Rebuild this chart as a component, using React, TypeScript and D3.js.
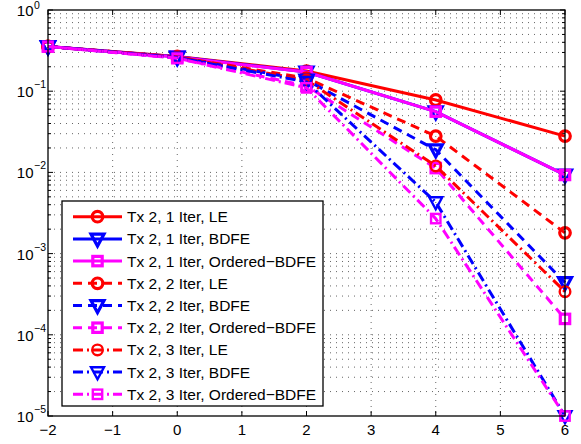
import React from "react";
import * as d3 from "d3";

// SNR points (x axis) and BER values
const snr = [-2, 0, 2, 4, 6];
const le1 = [0.355, 0.268, 0.177, 0.078, 0.028];
const bdfe1 = [0.355, 0.266, 0.172, 0.056, 0.0093];
const ord1 = [0.355, 0.264, 0.172, 0.056, 0.0093];
const le2 = [0.355, 0.264, 0.145, 0.028, 0.0018];
const bdfe2 = [0.355, 0.26, 0.137, 0.019, 0.00044];
const ord2 = [0.355, 0.255, 0.116, 0.0113, 0.000157];
const le3 = [0.355, 0.264, 0.137, 0.012, 0.00034];
const bdfe3 = [0.355, 0.26, 0.13, 0.0043, 0.00001];
const ord3 = [0.355, 0.255, 0.11, 0.0027, 0.00001];

const labels = [
  "Tx 2, 1 Iter, LE",
  "Tx 2, 1 Iter, BDFE",
  "Tx 2, 1 Iter, Ordered\u2212BDFE",
  "Tx 2, 2 Iter, LE",
  "Tx 2, 2 Iter, BDFE",
  "Tx 2, 2 Iter, Ordered\u2212BDFE",
  "Tx 2, 3 Iter, LE",
  "Tx 2, 3 Iter, BDFE",
  "Tx 2, 3 Iter, Ordered\u2212BDFE",
];
const xTicks = [-2, -1, 0, 1, 2, 3, 4, 5, 6];
const yExps = [0, -1, -2, -3, -4, -5];

const RED = "#ff0000";
const BLUE = "#0000ff";
const MAG = "#ff00ff";

const series = [
  { values: le1, color: RED, marker: "o", dash: null, mw: 3.2 },
  { values: bdfe1, color: BLUE, marker: "v", dash: null, mw: 3.2 },
  { values: ord1, color: MAG, marker: "s", dash: null, mw: 3.2 },
  { values: le2, color: RED, marker: "o", dash: "9 6", mw: 3.2 },
  { values: bdfe2, color: BLUE, marker: "v", dash: "9 6", mw: 3.2 },
  { values: ord2, color: MAG, marker: "s", dash: "9 6", mw: 3.2 },
  { values: le3, color: RED, marker: "o", dash: "10 4 2 4", mw: 2.4 },
  { values: bdfe3, color: BLUE, marker: "v", dash: "10 4 2 4", mw: 2.4 },
  { values: ord3, color: MAG, marker: "s", dash: "10 4 2 4", mw: 2.4 },
];

const left = 48;
const right = 565;
const top = 10;
const bottom = 416;

const x = d3.scaleLinear().domain([-2, 6]).range([left, right]);
const y = d3.scaleLog().domain([1e-5, 1]).range([bottom, top]);

const font = "'Liberation Sans', Arial, Helvetica, sans-serif";

function Marker({ kind, cx, cy, color, sw }) {
  if (kind === "o") {
    return <circle cx={cx} cy={cy} r={5.3} fill="none" stroke={color} strokeWidth={sw} />;
  }
  if (kind === "v") {
    const s = 6.5;
    const p = `M${cx - s},${cy - s * 0.75}L${cx + s},${cy - s * 0.75}L${cx},${cy + s * 1.1}Z`;
    return <path d={p} fill="none" stroke={color} strokeWidth={sw} strokeLinejoin="miter" />;
  }
  return <rect x={cx - 4.7} y={cy - 4.7} width={9.4} height={9.4} fill="none" stroke={color} strokeWidth={sw} />;
}

export default function App() {
  const line = d3
    .line<number>()
    .x((_, i) => x(snr[i]))
    .y((d) => y(d));

  const minorY: number[] = [];
  yExps.slice(0, -1).forEach((e) => {
    for (let k = 2; k <= 9; k++) minorY.push(k * Math.pow(10, e - 1));
  });
  const majorY = yExps.map((e) => Math.pow(10, e));

  const legX = 62;
  const legY = 201;
  const rowH = 22.2;

  return (
    <svg
      width={581}
      height={444}
      style={{ position: "absolute", left: 0, top: 0, background: "#fff" }}
      fontFamily={font}
    >
      {/* grid */}
      <g stroke="#666" strokeWidth={1} strokeDasharray="1 5">
        {xTicks.slice(1, -1).map((t) => (
          <line key={"gx" + t} x1={x(t)} x2={x(t)} y1={top} y2={bottom} />
        ))}
        {minorY.concat(majorY.slice(1, -1)).map((v, i) => (
          <line key={"gy" + i} x1={left} x2={right} y1={y(v)} y2={y(v)} />
        ))}
      </g>

      {/* ticks */}
      <g stroke="#000" strokeWidth={1}>
        {xTicks.map((t) => (
          <g key={"tx" + t}>
            <line x1={x(t)} x2={x(t)} y1={bottom} y2={bottom - 5} />
            <line x1={x(t)} x2={x(t)} y1={top} y2={top + 5} />
          </g>
        ))}
        {majorY.map((v, i) => (
          <g key={"ty" + i}>
            <line x1={left} x2={left + 5} y1={y(v)} y2={y(v)} />
            <line x1={right} x2={right - 5} y1={y(v)} y2={y(v)} />
          </g>
        ))}
        {minorY.map((v, i) => (
          <g key={"tm" + i}>
            <line x1={left} x2={left + 3} y1={y(v)} y2={y(v)} />
            <line x1={right} x2={right - 3} y1={y(v)} y2={y(v)} />
          </g>
        ))}
      </g>

      {/* series */}
      {series.map((s, i) => (
        <g key={"s" + i}>
          <path
            d={line(s.values) || ""}
            fill="none"
            stroke={s.color}
            strokeWidth={3}
            strokeDasharray={s.dash || undefined}
          />
          {s.values.map((v, j) => (
            <Marker key={j} kind={s.marker} cx={x(snr[j])} cy={y(v)} color={s.color} sw={s.mw} />
          ))}
        </g>
      ))}

      {/* axes box */}
      <rect x={left} y={top} width={right - left} height={bottom - top} fill="none" stroke="#000" strokeWidth={1.3} />

      {/* tick labels */}
      <g fontSize={15} fill="#000">
        {xTicks.map((t) => (
          <text key={"lx" + t} x={x(t)} y={bottom + 19} textAnchor="middle">
            {t < 0 ? "\u2212" + Math.abs(t) : t}
          </text>
        ))}
        {yExps.map((e) => (
          <g key={"ly" + e}>
            <text x={33.5} y={y(Math.pow(10, e)) + 6} textAnchor="end">
              10
            </text>
            <text x={34} y={Math.max(y(Math.pow(10, e)) - 3, 8.5)} fontSize={10.5}>
              {e < 0 ? "\u2212" + Math.abs(e) : e}
            </text>
          </g>
        ))}
      </g>

      {/* legend */}
      <rect x={legX} y={legY} width={261} height={205} fill="#fff" stroke="#000" strokeWidth={1.3} />
      {series.map((s, i) => {
        const cy = legY + 15.7 + i * rowH;
        return (
          <g key={"lg" + i}>
            <line
              x1={legX + 11}
              x2={legX + 60}
              y1={cy}
              y2={cy}
              stroke={s.color}
              strokeWidth={3}
              strokeDasharray={s.dash || undefined}
            />
            <Marker kind={s.marker} cx={legX + 35.5} cy={cy} color={s.color} sw={s.mw} />
            <text x={legX + 65} y={cy + 5.5} fontSize={15.5} fill="#000">
              {labels[i]}
            </text>
          </g>
        );
      })}
    </svg>
  );
}
